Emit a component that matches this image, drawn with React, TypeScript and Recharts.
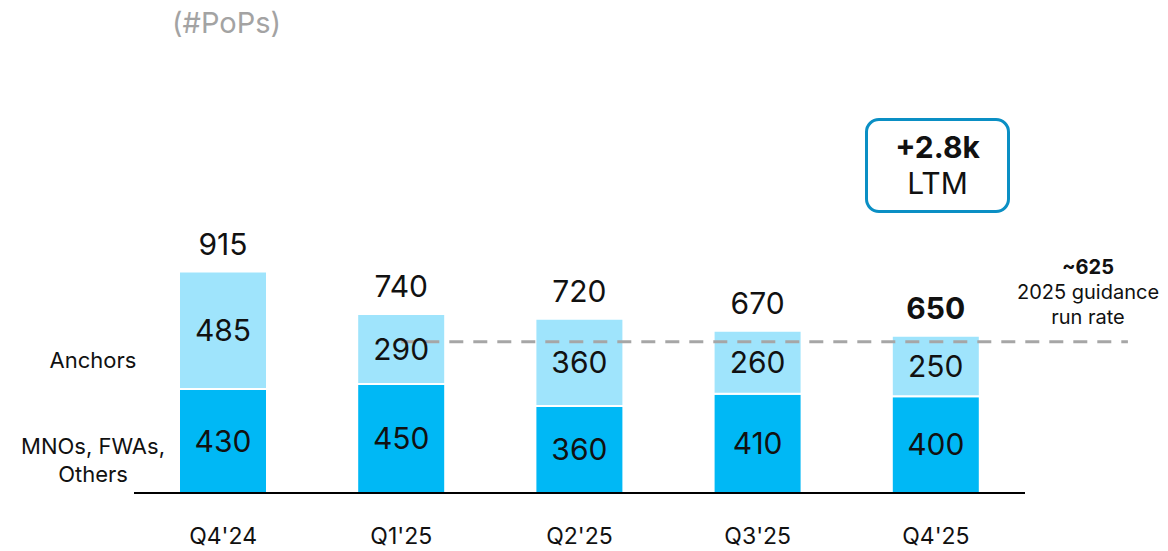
import { Bar, BarChart, XAxis, YAxis, LabelList, ReferenceLine } from "recharts"

const categories = ["Q4'24", "Q1'25", "Q2'25", "Q3'25", "Q4'25"]
const mnoValues = [430, 450, 360, 410, 400]
const anchorValues = [485, 290, 360, 260, 250]
const totals = [915, 740, 720, 670, 650]
const guidanceRunRate = 625
const guidanceStart = "Q1'25"
const guidanceEnd = "Q4'25"

const FONT = "Inter, 'Open Sans', sans-serif"

const data = categories.map((q, i) => ({
  quarter: q,
  mno: mnoValues[i],
  anchors: anchorValues[i],
  total: totals[i],
}))

const XTick = (props: any) => {
  const { x, y, payload } = props
  return (
    <text x={x} y={y + 35} textAnchor="middle" dominantBaseline="central" fontSize={23} fill="#111" fontFamily={FONT}>
      {payload.value}
    </text>
  )
}

const TotalLabel = (props: any) => {
  const { x, y, width, index } = props
  const last = index === data.length - 1
  return (
    <text
      x={x + width / 2}
      y={y - 28}
      textAnchor="middle"
      dominantBaseline="central"
      fontSize={30}
      fontWeight={last ? 700 : 400}
      fill="#111"
      fontFamily={FONT}
    >
      {totals[index]}
    </text>
  )
}

// dashed guidance line, extended past the last bar to sit under its note
const GuidanceLine = (props: any) => {
  const { x1, y1, x2, y2 } = props
  return <line x1={x1} y1={y1} x2={x2 + 192} y2={y2} stroke="#a6a6a6" strokeWidth={3} strokeDasharray="14 10" />
}

export default function App() {
  return (
    <div style={{ position: "absolute", left: 0, top: 0, width: 1168, height: 551, background: "#fff", fontFamily: FONT }}>
      <div style={{ position: "absolute", left: 172, top: 5, fontSize: 29, color: "#a3a3a3" }}>(#PoPs)</div>

      <div style={{ position: "absolute", left: 0, top: 347, width: 186, textAlign: "center", fontSize: 22, color: "#111" }}>
        Anchors
      </div>
      <div
        style={{ position: "absolute", left: 0, top: 432, width: 186, textAlign: "center", fontSize: 22, lineHeight: "28px", color: "#111" }}
      >
        MNOs, FWAs,
        <br />
        Others
      </div>

      <div
        style={{
          position: "absolute",
          left: 865,
          top: 118,
          width: 145,
          height: 95,
          boxSizing: "border-box",
          border: "3px solid #0a8fc4",
          borderRadius: 14,
          textAlign: "center",
          color: "#111",
        }}
      >
        <div style={{ fontSize: 30, fontWeight: 700, marginTop: 9, lineHeight: "34px" }}>+2.8k</div>
        <div style={{ fontSize: 30, lineHeight: "38px" }}>LTM</div>
      </div>

      <div style={{ position: "absolute", left: 1000, top: 255, width: 176, textAlign: "center", color: "#111", fontSize: 20, lineHeight: "25px" }}>
        <div style={{ fontWeight: 700 }}>~625</div>
        <div>2025 guidance</div>
        <div>run rate</div>
      </div>

      <BarChart
        width={1168}
        height={551}
        data={data}
        margin={{ top: 251, right: 143, left: 134, bottom: 0 }}
        style={{ position: "absolute", left: 0, top: 0 }}
      >
        <XAxis
          dataKey="quarter"
          height={58}
          axisLine={{ stroke: "#000", strokeWidth: 2 }}
          tickLine={false}
          tick={<XTick />}
          interval={0}
        />
        <YAxis hide domain={[0, 1000]} />
        <ReferenceLine
          segment={[
            { x: guidanceStart, y: guidanceRunRate },
            { x: guidanceEnd, y: guidanceRunRate },
          ]}
          ifOverflow="visible"
          shape={<GuidanceLine />}
        />
        <Bar dataKey="mno" stackId="a" fill="#00b8f5" stroke="#fff" strokeWidth={2} barSize={88} isAnimationActive={false}>
          <LabelList dataKey="mno" position="center" fontSize={30} fill="#111" fontFamily={FONT} />
        </Bar>
        <Bar dataKey="anchors" stackId="a" fill="#9fe4fc" stroke="#fff" strokeWidth={2} barSize={88} isAnimationActive={false}>
          <LabelList dataKey="anchors" position="center" fontSize={30} fill="#111" fontFamily={FONT} />
          <LabelList dataKey="total" content={<TotalLabel />} />
        </Bar>
      </BarChart>
    </div>
  )
}
